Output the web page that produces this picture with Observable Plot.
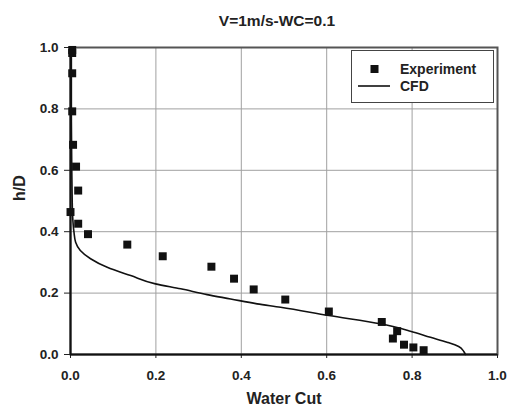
<!DOCTYPE html>
<html>
<head>
<meta charset="utf-8">
<script src="https://cdn.jsdelivr.net/npm/d3@7"></script>
<script src="https://cdn.jsdelivr.net/npm/@observablehq/plot@0.6"></script>
<style>
  body { margin: 0; background: #fff; }
  #chart { position: relative; width: 511px; height: 416px; font-family: "Liberation Sans", Arial, sans-serif; }
  #legend { position: absolute; left: 351px; top: 50px; }
</style>
</head>
<body>
<div id="chart"></div>
<script>
// Measured water cut profile (h/D vs water cut), V = 1 m/s, WC = 0.1
const expWaterCut = [0.004, 0.004, 0.004, 0.004, 0.006, 0.013, 0.018, 0.000, 0.018, 0.041, 0.133, 0.216,
                     0.330, 0.383, 0.429, 0.503, 0.605, 0.729, 0.765, 0.755, 0.781, 0.803, 0.827];
const expHeight   = [0.992, 0.982, 0.916, 0.792, 0.683, 0.612, 0.534, 0.464, 0.426, 0.392, 0.358, 0.320,
                     0.286, 0.247, 0.212, 0.179, 0.140, 0.106, 0.076, 0.052, 0.032, 0.023, 0.014];

// CFD prediction, ordered by increasing h/D
const cfdHeight   = [0.000, 0.010, 0.026, 0.040, 0.056, 0.076, 0.100, 0.127, 0.154, 0.165, 0.181, 0.195,
                     0.214, 0.230, 0.257, 0.284, 0.312, 0.339, 0.366, 0.400, 0.450, 0.500, 0.600, 0.800, 1.000];
const cfdWaterCut = [0.925, 0.921, 0.909, 0.882, 0.843, 0.796, 0.726, 0.605, 0.492, 0.437, 0.375, 0.320,
                     0.258, 0.199, 0.141, 0.086, 0.047, 0.023, 0.012, 0.008, 0.005, 0.004, 0.003, 0.002, 0.002];

const ticks = [0, 0.2, 0.4, 0.6, 0.8, 1.0];
const title = "V=1m/s-WC=0.1";
const xLabel = "Water Cut";
const yLabel = "h/D";
const legendItems = ["Experiment", "CFD"];

const experiment = expWaterCut.map((x, i) => ({x, h: expHeight[i]}));
const cfd = cfdWaterCut.map((x, i) => ({x, h: cfdHeight[i]}));

const font = "Liberation Sans, Arial, sans-serif";
const ink = "#222";

const chart = Plot.plot({
  width: 511,
  height: 416,
  marginLeft: 70,
  marginRight: 14,
  marginTop: 47,
  marginBottom: 62,
  style: {fontFamily: font, fontSize: "13px", fontWeight: "bold", color: ink, background: "#fff"},
  x: {domain: [0, 1], ticks, tickFormat: d3.format(".1f"), label: null},
  y: {domain: [0, 1], ticks, tickFormat: d3.format(".1f"), label: null},
  marks: [
    Plot.gridX(ticks, {stroke: "#a0a0a0", strokeOpacity: 1, strokeWidth: 1}),
    Plot.gridY(ticks, {stroke: "#a0a0a0", strokeOpacity: 1, strokeWidth: 1}),
    Plot.frame({stroke: "#555", strokeWidth: 2}),
    Plot.axisX({ticks, tickFormat: d3.format(".1f"), tickSize: 4, tickPadding: 12, stroke: ink, fill: ink, fontSize: 13.5}),
    Plot.axisY({ticks, tickFormat: d3.format(".1f"), tickSize: 6, tickPadding: 6, stroke: ink, fill: ink, fontSize: 13.5}),
    Plot.ruleX([0], {stroke: "#111", strokeWidth: 2}),
    Plot.ruleY([0], {stroke: "#111", strokeWidth: 2}),
    Plot.line(cfd, {x: "x", y: "h", stroke: "#111", strokeWidth: 1.6, curve: "monotone-y"}),
    Plot.dot(experiment, {x: "x", y: "h", symbol: "square", r: 4.5, fill: "#111", stroke: "none"}),
    Plot.text([title], {frameAnchor: "top", dx: -7, dy: -33, fontSize: 15.5, fontWeight: "bold", fill: ink}),
    Plot.text([xLabel], {frameAnchor: "bottom", dy: 49, fontSize: 16, fontWeight: "bold", fill: ink}),
    Plot.text([yLabel], {frameAnchor: "left", dx: -51, rotate: -90, fontSize: 16, fontWeight: "bold", fill: ink})
  ]
});

const root = document.getElementById("chart");
root.appendChild(chart);

// Legend box overlaid in the upper right of the plot area
const lg = d3.select(root).append("svg")
  .attr("id", "legend")
  .attr("width", 144).attr("height", 54)
  .style("font-family", font);
lg.append("rect").attr("x", 0.5).attr("y", 0.5).attr("width", 142).attr("height", 52)
  .attr("fill", "#fff").attr("stroke", "#444").attr("stroke-width", 1);
lg.append("rect").attr("x", 19.5).attr("y", 15).attr("width", 8).attr("height", 8).attr("fill", "#111");
lg.append("line").attr("x1", 7).attr("x2", 39).attr("y1", 36).attr("y2", 36)
  .attr("stroke", "#111").attr("stroke-width", 1.6);
lg.selectAll("text.item").data(legendItems).join("text")
  .attr("class", "item")
  .attr("x", 49).attr("y", (d, i) => 19 + i * 17)
  .attr("dy", "0.36em")
  .attr("font-size", 14).attr("font-weight", "bold").attr("fill", ink)
  .text(d => d);
</script>
</body>
</html>
